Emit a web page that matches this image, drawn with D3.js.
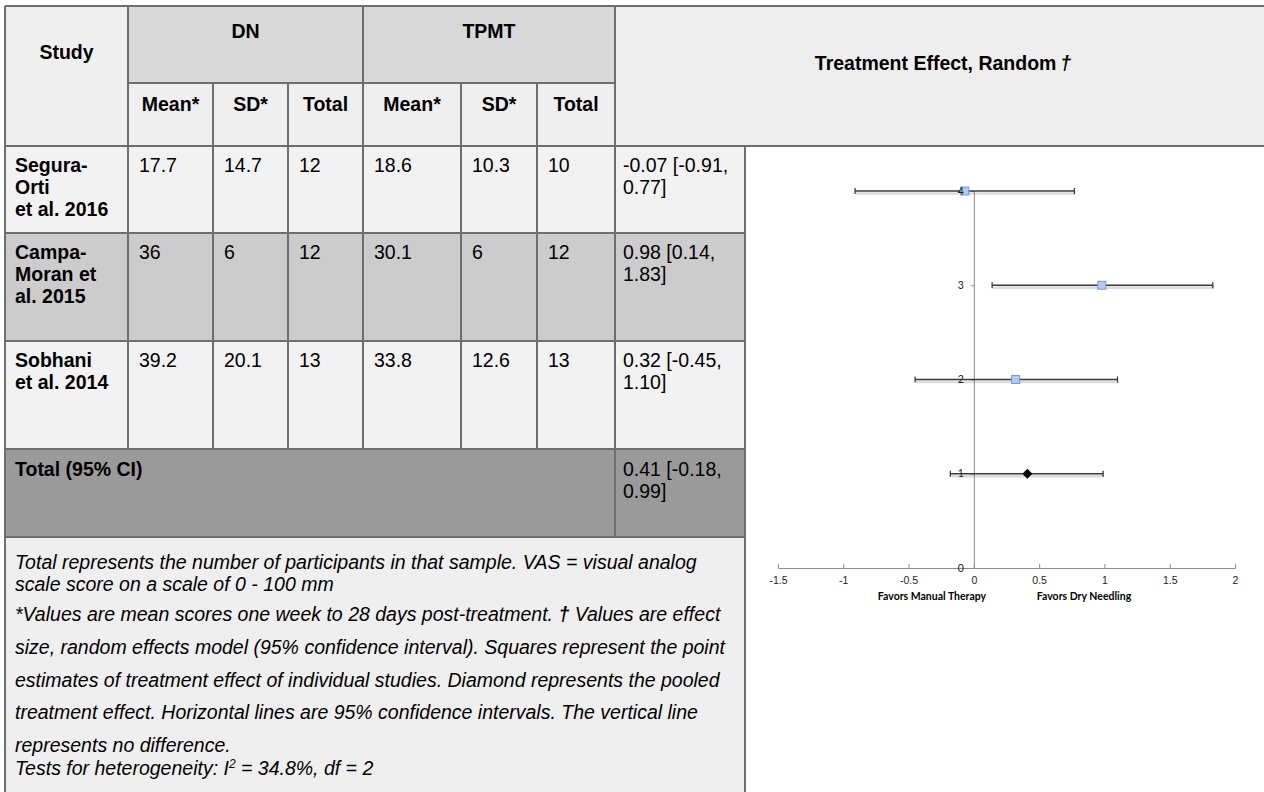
<!DOCTYPE html>
<html>
<head>
<meta charset="utf-8">
<script src="https://cdn.jsdelivr.net/npm/d3@7"></script>
<style>
  body { margin: 0; background: #fff; }
  svg { display: block; font-family: "Liberation Sans", Arial, sans-serif; }
</style>
</head>
<body>
<script>
'use strict';

// table values, one entry per study
const studyLines = [["Segura-", "Orti", "et al. 2016"], ["Campa-", "Moran et", "al. 2015"], ["Sobhani", "et al. 2014"]];
const dnMean = [17.7, 36, 39.2];
const dnSD = [14.7, 6, 20.1];
const dnTotal = [12, 12, 13];
const tpmtMean = [18.6, 30.1, 33.8];
const tpmtSD = [10.3, 6, 12.6];
const tpmtTotal = [10, 12, 13];

// effect sizes (random effects) and 95% CI
const effect = [-0.07, 0.98, 0.32];
const ciLow = [-0.91, 0.14, -0.45];
const ciHigh = [0.77, 1.83, 1.10];
const pooledEffect = 0.41;
const pooledLow = -0.18;
const pooledHigh = 0.99;

// rows on the forest plot y axis (study order top to bottom, pooled last)
const plotRows = [4, 3, 2];
const pooledRow = 1;

const xTicks = [-1.5, -1, -0.5, 0, 0.5, 1, 1.5, 2];
const yTicks = [0, 1, 2, 3, 4];
const subHeaders = ["Mean*", "SD*", "Total", "Mean*", "SD*", "Total"];

(function () {

  let svgContainer = "";

  // column edges and row edges of the table
  const colX = [5, 128, 213, 288, 363, 461, 537, 615, 745];
  const rowY = [146, 233, 341, 449, 537];
  const rowFill = ["#f2f2f2", "#cccccc", "#f2f2f2"];
  const border = "#6e6e6e";
  const fs = 19.5;   // table font size
  const lh = 22;     // line step inside a cell

  window.onload = function () {
    svgContainer = d3.select('body')
      .append('svg')
      .attr('width', 1264)
      .attr('height', 792);

    drawHeader();
    drawRows();
    drawFootnote();
    drawForest();
    drawGrid();
  };

  function cell(x0, y0, x1, y1, fill) {
    svgContainer.append('rect')
      .attr('x', x0).attr('y', y0)
      .attr('width', x1 - x0).attr('height', y1 - y0)
      .attr('fill', fill);
  }

  function label(x, y, txt, opts) {
    opts = opts || {};
    return svgContainer.append('text')
      .attr('x', x)
      .attr('y', y)
      .attr('text-anchor', opts.anchor || 'start')
      .style('font-size', (opts.size || fs) + 'px')
      .style('font-weight', opts.bold ? 'bold' : 'normal')
      .style('font-style', opts.italic ? 'italic' : 'normal')
      .attr('fill', '#000')
      .text(txt);
  }

  // header cells: Study, DN, TPMT, sub headers and the plot title
  function drawHeader() {
    cell(colX[0], 6, colX[1], 146, "#efefef");
    cell(colX[1], 6, colX[4], 83, "#d9d9d9");
    cell(colX[4], 6, colX[7], 83, "#d9d9d9");
    cell(colX[1], 83, colX[7], 146, "#efefef");
    cell(colX[7], 6, 1264, 146, "#eeeeee");

    label((colX[0] + colX[1]) / 2, 59, "Study", { anchor: 'middle', bold: true });
    label((colX[1] + colX[4]) / 2, 38, "DN", { anchor: 'middle', bold: true });
    label((colX[4] + colX[7]) / 2, 38, "TPMT", { anchor: 'middle', bold: true });

    subHeaders.forEach((h, i) => {
      label((colX[i + 1] + colX[i + 2]) / 2, 111, h, { anchor: 'middle', bold: true });
    });

    let t = label(943, 70, "Treatment Effect, Random", { anchor: 'middle', bold: true });
    t.append('tspan').style('font-style', 'italic').text("\u2009\u2020");
  }

  // one row per study plus the pooled total row
  function drawRows() {
    let ciText = (e, lo, hi) => [e.toFixed(2) + " [" + lo.toFixed(2) + ",", hi.toFixed(2) + "]"];

    studyLines.forEach((lines, i) => {
      let top = rowY[i];
      cell(colX[0], top, colX[8], rowY[i + 1], rowFill[i]);
      lines.forEach((ln, k) => label(colX[0] + 10, top + 26 + k * lh, ln, { bold: true }));
      let vals = [dnMean[i], dnSD[i], dnTotal[i], tpmtMean[i], tpmtSD[i], tpmtTotal[i]];
      vals.forEach((v, c) => label(colX[c + 1] + 11, top + 26, String(v)));
      ciText(effect[i], ciLow[i], ciHigh[i])
        .forEach((ln, k) => label(colX[7] + 8, top + 26 + k * lh, ln));
    });

    // total row
    let top = rowY[3];
    cell(colX[0], top, colX[8], rowY[4], "#9a9a9a");
    label(colX[0] + 10, top + 27, "Total (95% CI)", { bold: true });
    ciText(pooledEffect, pooledLow, pooledHigh)
      .forEach((ln, k) => label(colX[7] + 8, top + 27 + k * lh, ln));
  }

  // explanatory notes under the table
  function drawFootnote() {
    cell(colX[0], rowY[4], colX[8], 792, "#efefef");
    let it = { italic: true, size: 19.5 };
    label(15, 569, "Total represents the number of participants in that sample. VAS = visual analog", it);
    label(15, 591, "scale score on a scale of 0 - 100 mm", it);
    let l3 = label(15, 621, "*Values are mean scores one week to 28 days post-treatment. ", it);
    l3.append('tspan').style('font-weight', 'bold').text("\u2020");
    l3.append('tspan').text(" Values are effect");
    label(15, 654, "size, random effects model (95% confidence interval). Squares represent the point", it);
    label(15, 687, "estimates of treatment effect of individual studies. Diamond represents the pooled", it);
    label(15, 719, "treatment effect. Horizontal lines are 95% confidence intervals. The vertical line", it);
    label(15, 752, "represents no difference.", it);
    let l8 = label(15, 775, "Tests for heterogeneity: I", it);
    l8.append('tspan').attr('dy', -7).style('font-size', '12px').text("2");
    l8.append('tspan').attr('dy', 7).text(" = 34.8%, df = 2");
  }

  // forest plot on the right
  function drawForest() {
    cell(colX[8], 146, 1264, 792, "#ffffff");

    let xScale = d3.scaleLinear().domain([-1.5, 2]).range([778, 1235]);
    let yScale = d3.scaleLinear().domain([0, 4]).range([568, 191]);

    let plot = svgContainer.append('g')
      .style('font-family', 'Lato, "Liberation Sans", sans-serif');

    // x axis with ticks pointing up
    let xAxis = d3.axisBottom(xScale)
      .tickValues(xTicks)
      .tickSizeInner(-4)
      .tickSizeOuter(-4)
      .tickPadding(9)
      .tickFormat(d3.format("~g"));
    let gx = plot.append('g')
      .attr('transform', 'translate(0,' + yScale(0) + ')')
      .call(xAxis);
    gx.selectAll('path, line').attr('stroke', '#8c8c8c');
    gx.selectAll('text').style('font-size', '10.5px').attr('fill', '#222')
      .text((d) => String(d));

    // error bars: studies then pooled
    let bars = effect.map((e, i) => ({ e: e, lo: ciLow[i], hi: ciHigh[i], row: plotRows[i], pooled: false }));
    bars.push({ e: pooledEffect, lo: pooledLow, hi: pooledHigh, row: pooledRow, pooled: true });

    let g = plot.append('g');
    // soft shadow under each bar
    g.selectAll('.shadow')
      .data(bars)
      .enter()
      .append('line')
      .attr('x1', (d) => xScale(d.lo) + 1)
      .attr('x2', (d) => xScale(d.hi) + 1)
      .attr('y1', (d) => yScale(d.row) + 2.5)
      .attr('y2', (d) => yScale(d.row) + 2.5)
      .attr('stroke', '#dcdcdc')
      .attr('stroke-width', 2.5);

    // vertical line of no difference, drawn as the y axis at x = 0
    let yAxis = d3.axisLeft(yScale)
      .tickValues(yTicks)
      .tickSizeInner(3)
      .tickSizeOuter(0)
      .tickPadding(6)
      .tickFormat(d3.format("d"));
    let gy = plot.append('g')
      .attr('transform', 'translate(' + xScale(0) + ',0)')
      .call(yAxis);
    gy.selectAll('path, line').attr('stroke', '#8c8c8c');
    gy.selectAll('text').remove();

    g = plot.append('g');
    g.selectAll('.bar')
      .data(bars)
      .enter()
      .append('line')
      .attr('x1', (d) => xScale(d.lo))
      .attr('x2', (d) => xScale(d.hi))
      .attr('y1', (d) => yScale(d.row))
      .attr('y2', (d) => yScale(d.row))
      .attr('stroke', '#3a3a3a')
      .attr('stroke-width', 1.3);

    ['lo', 'hi'].forEach((k) => {
      g.selectAll('.cap-' + k)
        .data(bars)
        .enter()
        .append('line')
        .attr('x1', (d) => xScale(d[k]))
        .attr('x2', (d) => xScale(d[k]))
        .attr('y1', (d) => yScale(d.row) - 3)
        .attr('y2', (d) => yScale(d.row) + 3)
        .attr('stroke', '#3a3a3a')
        .attr('stroke-width', 1.3);
    });

    // squares for each study
    g.selectAll('.sq')
      .data(bars.filter((d) => !d.pooled))
      .enter()
      .append('rect')
      .attr('x', (d) => xScale(d.e) - 4)
      .attr('y', (d) => yScale(d.row) - 4)
      .attr('width', 8)
      .attr('height', 8)
      .attr('fill', '#b4caeb')
      .attr('stroke', '#729bd6')
      .attr('stroke-width', 1);

    // diamond for the pooled effect
    g.selectAll('.dia')
      .data(bars.filter((d) => d.pooled))
      .enter()
      .append('path')
      .attr('transform', (d) => 'translate(' + xScale(d.e) + ',' + yScale(d.row) + ')')
      .attr('d', 'M0,-5L5,0L0,5L-5,0Z')
      .attr('fill', '#000');

    // y tick labels sit on top of the bars, as in the original chart
    plot.append('g')
      .selectAll('text')
      .data(yTicks)
      .enter()
      .append('text')
      .attr('x', xScale(0) - 10)
      .attr('y', (d) => yScale(d))
      .attr('dy', '0.35em')
      .attr('text-anchor', 'end')
      .style('font-size', '10.5px')
      .attr('fill', '#222')
      .text((d) => d);

    // direction labels
    plot.append('text')
      .attr('x', 932).attr('y', 600)
      .attr('text-anchor', 'middle')
      .style('font-size', '10.5px').style('font-weight', 'bold')
      .text("Favors Manual Therapy");
    plot.append('text')
      .attr('x', 1084).attr('y', 600)
      .attr('text-anchor', 'middle')
      .style('font-size', '10.5px').style('font-weight', 'bold')
      .text("Favors Dry Needling");
  }

  // table border lines
  function drawGrid() {
    let lines = [
      [5, 6, 1264, 6], [128, 83, 615, 83], [5, 146, 1264, 146],
      [5, 6, 5, 792], [745, 146, 745, 792], [615, 6, 615, 537]
    ];
    colX.slice(1, 7).forEach((x, i) => {
      // DN/TPMT header cells span the upper half
      let y0 = (i === 0 || i === 3) ? 6 : 83;
      lines.push([x, y0, x, rowY[3]]);
    });
    rowY.slice(1).forEach((y) => lines.push([5, y, 745, y]));

    svgContainer.append('g')
      .selectAll('line')
      .data(lines)
      .enter()
      .append('line')
      .attr('x1', (d) => d[0]).attr('y1', (d) => d[1])
      .attr('x2', (d) => d[2]).attr('y2', (d) => d[3])
      .attr('stroke', border)
      .attr('stroke-width', 2);
  }

})();
</script>
</body>
</html>
